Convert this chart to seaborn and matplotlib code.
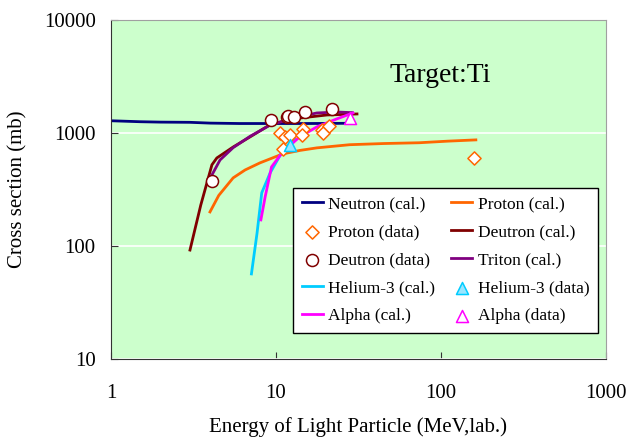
import numpy as np
import pandas as pd
import matplotlib
matplotlib.use("Agg")
import matplotlib.pyplot as plt
from matplotlib.ticker import FixedLocator, FixedFormatter, NullLocator
import seaborn as sns

# calculated curves (energy MeV, cross section mb)
neutron_e = [1.0, 1.5, 2.0, 3.0, 4.0, 6.0, 10.0, 15.0, 20.0, 26.0]
neutron_s = [1280, 1255, 1245, 1240, 1220, 1210, 1210, 1210, 1212, 1215]

proton_e = [3.98, 4.5, 5.5, 6.5, 8.0, 11.0, 14.0, 17.7, 28.0, 45.0, 74.0, 110.0, 163.0]
proton_s = [200, 280, 400, 470, 543, 652, 700, 737, 786, 805, 818, 845, 867]

deutron_e = [3.01, 3.5, 4.09, 4.38, 5.5, 6.95, 9.2, 12.6, 20.4, 31.0]
deutron_s = [92, 230, 522, 600, 750, 920, 1180, 1330, 1440, 1470]

triton_e = [4.03, 4.58, 5.5, 6.95, 9.2, 12.6, 17.7, 23.4, 29.0]
triton_s = [408, 576, 740, 930, 1170, 1350, 1500, 1530, 1510]

he3_e = [7.1, 7.68, 8.2, 9.2, 10.8, 12.2, 13.0]
he3_s = [56.6, 130, 295, 440, 665, 815, 880]

alpha_e = [8.1, 8.6, 9.4, 11.0, 13.9, 17.7, 23.4, 29.3]
alpha_s = [170, 272, 500, 680, 920, 1130, 1330, 1500]

# measured data
proton_data_e = [10.6, 11.3, 12.1, 11.0, 14.5, 14.4, 19.0, 19.2, 21.0, 158.0]
proton_data_s = [1000, 920, 960, 720, 1080, 960, 1060, 1000, 1160, 601]

deutron_data_e = [4.09, 9.3, 11.7, 11.9, 12.8, 15.0, 21.8]
deutron_data_s = [375, 1300, 1380, 1420, 1380, 1530, 1630]

he3_data_e = [12.2]
he3_data_s = [780]

alpha_data_e = [28.0]
alpha_data_s = [1360]

x_ticks = [1, 10, 100, 1000]
y_ticks = [10, 100, 1000, 10000]

plt.rcParams['font.family'] = ['Liberation Serif', 'DejaVu Serif']

fig = plt.figure(figsize=(6.31, 4.4), dpi=100)
ax = fig.add_axes([0.176, 0.184, 0.784, 0.771])
ax.set_facecolor('#CCFFCC')

curves = [
    ("Neutron (cal.)", neutron_e, neutron_s, '#000080'),
    ("Proton (cal.)", proton_e, proton_s, '#FF6600'),
    ("Deutron (cal.)", deutron_e, deutron_s, '#800000'),
    ("Triton (cal.)", triton_e, triton_s, '#800080'),
    ("Helium-3 (cal.)", he3_e, he3_s, '#00CCFF'),
    ("Alpha (cal.)", alpha_e, alpha_s, '#FF00FF'),
]
for name, e, s, c in curves:
    df = pd.DataFrame({'E': e, 'S': s})
    sns.lineplot(data=df, x='E', y='S', ax=ax, color=c, lw=2, label=name,
                 sort=False, estimator=None)

points = [
    ("Proton (data)", proton_data_e, proton_data_s, '#FF6600', 'D', 'white', 45),
    ("Deutron (data)", deutron_data_e, deutron_data_s, '#800000', 'o', 'white', 75),
    ("Helium-3 (data)", he3_data_e, he3_data_s, '#00CCFF', '^', '#99E6FF', 75),
    ("Alpha (data)", alpha_data_e, alpha_data_s, '#FF00FF', '^', 'white', 75),
]
for name, e, s, c, m, fc, sz in points:
    df = pd.DataFrame({'E': e, 'S': s})
    sns.scatterplot(data=df, x='E', y='S', ax=ax, marker=m, s=sz,
                    facecolor=fc, edgecolor=c, linewidth=1.1, label=name, zorder=4)

ax.set_xscale('log')
ax.set_yscale('log')
ax.set_xlim(1, 1000)
ax.set_ylim(10, 10000)
ax.xaxis.set_major_locator(FixedLocator(x_ticks))
ax.xaxis.set_major_formatter(FixedFormatter([str(v) for v in x_ticks]))
ax.yaxis.set_major_locator(FixedLocator(y_ticks))
ax.yaxis.set_major_formatter(FixedFormatter([str(v) for v in y_ticks]))
ax.xaxis.set_minor_locator(NullLocator())
ax.yaxis.set_minor_locator(NullLocator())
ax.tick_params(axis='both', direction='in', length=5, labelsize=15, color='#333333')
ax.tick_params(axis='x', pad=18)
ax.tick_params(axis='y', pad=11)
ax.yaxis.grid(True, color='white', lw=1.2)
ax.set_axisbelow(True)

for side in ['left', 'bottom']:
    ax.spines[side].set_color('#333333')
for side in ['top', 'right']:
    ax.spines[side].set_color('#A0A0A0')

ax.set_xlabel('Energy of Light Particle (MeV,lab.)', fontsize=15, labelpad=10)
ax.set_ylabel('Cross section (mb)', fontsize=15, labelpad=12)

ax.text(0.665, 0.835, 'Target:Ti', transform=ax.transAxes, fontsize=20,
        ha='center', va='center')

handles, labels = ax.get_legend_handles_labels()
hmap = dict(zip(labels, handles))
order = ["Neutron (cal.)", "Proton (data)", "Deutron (data)", "Helium-3 (cal.)", "Alpha (cal.)",
         "Proton (cal.)", "Deutron (cal.)", "Triton (cal.)", "Helium-3 (data)", "Alpha (data)"]
leg = ax.legend([hmap[k] for k in order], order, ncol=2, loc='lower left',
                bbox_to_anchor=(0.368, 0.077, 0.616, 0.422), mode='expand',
                borderaxespad=0, fontsize=12.5, frameon=True, fancybox=False,
                framealpha=1, edgecolor='black', handlelength=1.2, handletextpad=0.3,
                labelspacing=0.68, columnspacing=0.8, borderpad=0.5)
leg.get_frame().set_linewidth(1.0)

fig.savefig('out.png', dpi=100)
